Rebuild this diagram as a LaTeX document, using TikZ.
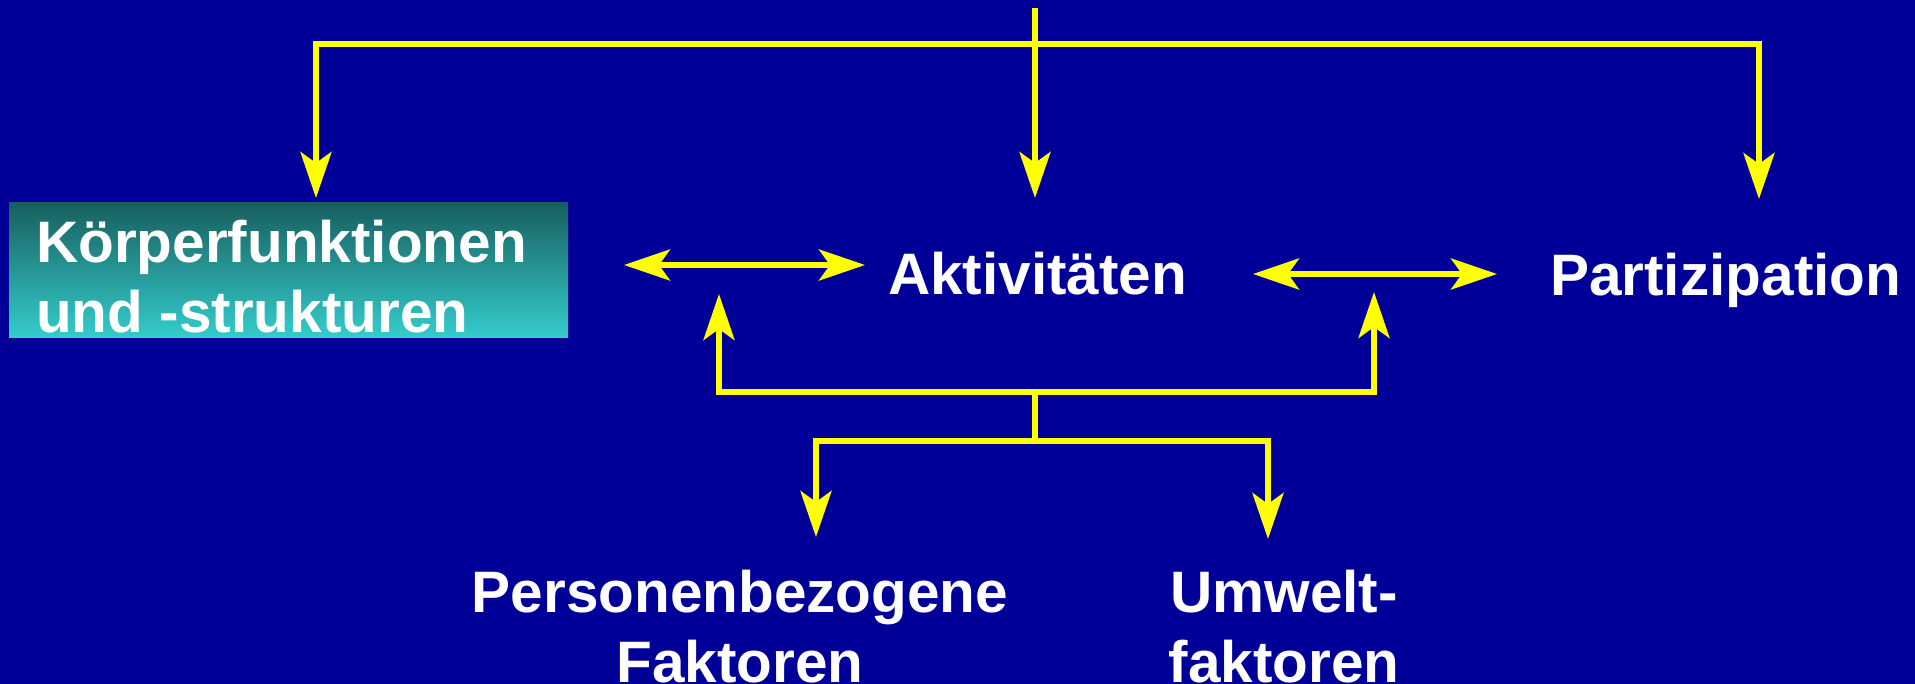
\documentclass[tikz,border=0pt]{standalone}
\usepackage{fontspec}
\setmainfont{Liberation Sans}
\usetikzlibrary{arrows.meta}
\definecolor{bg}{RGB}{0,0,153}
\definecolor{ylw}{RGB}{255,255,0}
\definecolor{tealdark}{RGB}{24,94,94}
\definecolor{teallight}{RGB}{52,204,204}
\begin{document}
\begin{tikzpicture}[x=1pt,y=-1pt,
  tipshape/.tip={Stealth[length=46pt,width=31pt,inset=11pt]},
  conn/.style={draw=ylw,line width=5.5pt},
  arr/.style={conn,-tipshape},
  darr/.style={conn,tipshape-tipshape},
  lbl/.style={text=white,font=\fontsize{58.5}{70}\selectfont\bfseries,inner sep=0pt}]
\fill[bg] (0,0) rectangle (1915,684);
\useasboundingbox (0,0) rectangle (1915,684);
% gradient box
\node[anchor=north west,minimum width=559pt,minimum height=135pt,inner sep=0pt,
  top color=tealdark,bottom color=teallight,draw=none] (box) at (9,202) {};
% labels (base anchor of a multi-line node is the last line)
\node[lbl,anchor=base west,align=left] (koerper) at (36,333) {Körperfunktionen\\und -strukturen};
\node[lbl,anchor=base west] (akt) at (888,295) {Aktivitäten};
\node[lbl,anchor=base west] (part) at (1550,296) {Partizipation};
\node[lbl,anchor=base,align=center] (pers) at (740,682) {Personenbezogene\\Faktoren};
\node[lbl,anchor=base,align=center] (umw) at (1284,682) {Umwelt-\\faktoren};
% coordinates
\coordinate (t0) at (1035,8);
\coordinate (t1) at (1035,44);
\coordinate (tipL) at (316,198);
\coordinate (tipM) at (1035,198);
\coordinate (tipR) at (1759,199);
\coordinate (dl1) at (624,265);
\coordinate (dl2) at (865,265);
\coordinate (dr1) at (1253,274);
\coordinate (dr2) at (1497,274);
\coordinate (bm) at (1035,392);
\coordinate (uL) at (719,294);
\coordinate (uR) at (1374,292);
\coordinate (bm2) at (1035,441);
\coordinate (dL) at (816,537);
\coordinate (dR) at (1268,539);
% connectors
\draw[arr] (t0) -- (tipM);
\draw[arr] (t1) -| (tipL);
\draw[arr] (t1) -| (tipR);
\draw[darr] (dl1) -- (dl2);
\draw[darr] (dr1) -- (dr2);
\draw[arr] (bm) -| (uL);
\draw[arr] (bm) -| (uR);
\draw[conn] (bm) -- (bm2);
\draw[arr] (bm2) -| (dL);
\draw[arr] (bm2) -| (dR);
\end{tikzpicture}
\end{document}
